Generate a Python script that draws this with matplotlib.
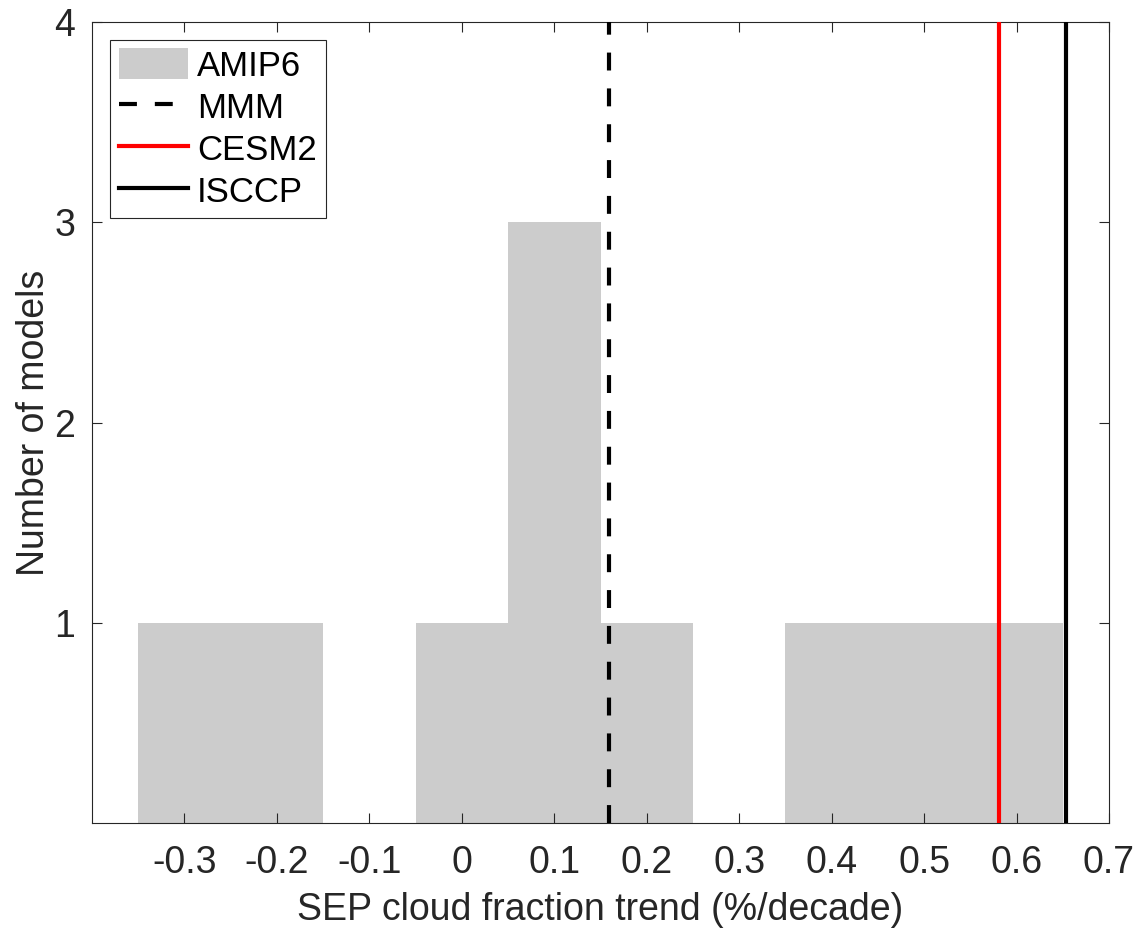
"""Histogram of SEP cloud fraction trends across AMIP6 models, with reference lines."""

import matplotlib
matplotlib.use("Agg")
import matplotlib.pyplot as plt
from matplotlib.patches import Patch
from matplotlib.lines import Line2D
import numpy as np

plt.rcParams["font.family"] = ["Liberation Sans", "DejaVu Sans"]

# histogram bins (0.1 wide) and model counts per bin
BIN_EDGES = [-0.35, -0.25, -0.15, -0.05, 0.05, 0.15, 0.25, 0.35, 0.45, 0.55, 0.65]
COUNTS = [1, 1, 0, 1, 3, 1, 0, 1, 1, 1]

# reference values (%/decade)
MMM = 0.159
CESM2 = 0.581
ISCCP = 0.654

XTICKS = [-0.3, -0.2, -0.1, 0, 0.1, 0.2, 0.3, 0.4, 0.5, 0.6, 0.7]
YTICKS = [1, 2, 3, 4]

GRAY = "#cccccc"
AXCOL = "#262626"


def main():
    fig = plt.figure(figsize=(11.42, 9.34), dpi=100)
    ax = fig.add_axes([0.0806, 0.1188, 0.8905, 0.8576])

    edges = np.array(BIN_EDGES)
    centers = (edges[:-1] + edges[1:]) / 2
    widths = np.diff(edges)
    ax.bar(centers, COUNTS, width=widths, color=GRAY, edgecolor="none", zorder=1)

    ax.axvline(MMM, color="black", lw=3, dashes=(4.3, 4.3), zorder=3)
    ax.axvline(CESM2, color="red", lw=3, zorder=3)
    ax.axvline(ISCCP, color="black", lw=3, zorder=3)

    ax.set_xlim(-0.4, 0.7)
    ax.set_ylim(0, 4)
    ax.set_xticks(XTICKS)
    ax.set_xticklabels([f"{t:g}" for t in XTICKS])
    ax.set_yticks(YTICKS)

    ax.tick_params(direction="in", length=7, width=0.8, color=AXCOL,
                   labelsize=27, labelcolor=AXCOL, top=True, right=True)
    ax.tick_params(axis="x", pad=16)
    ax.tick_params(axis="y", pad=12)
    for s in ax.spines.values():
        s.set_color(AXCOL)
        s.set_linewidth(0.8)

    ax.set_xlabel("SEP cloud fraction trend (%/decade)", fontsize=27,
                  color=AXCOL, labelpad=8)
    ax.set_ylabel("Number of models", fontsize=27, color=AXCOL, labelpad=2)

    handles = [
        Patch(facecolor=GRAY, edgecolor="none"),
        Line2D([], [], color="black", lw=3, dashes=(4.3, 4.3)),
        Line2D([], [], color="red", lw=3),
        Line2D([], [], color="black", lw=3),
    ]
    leg = ax.legend(handles, ["AMIP6", "MMM", "CESM2", "ISCCP"],
                    loc="upper left", bbox_to_anchor=(0.018, 0.978),
                    fontsize=25, frameon=True, fancybox=False,
                    edgecolor=AXCOL, framealpha=1, borderaxespad=0,
                    handlelength=2.0, handleheight=1.0, handletextpad=0.25,
                    labelspacing=0.22, borderpad=0.25)
    leg.get_frame().set_linewidth(0.8)

    fig.savefig("out.png", dpi=100)


if __name__ == "__main__":
    main()
